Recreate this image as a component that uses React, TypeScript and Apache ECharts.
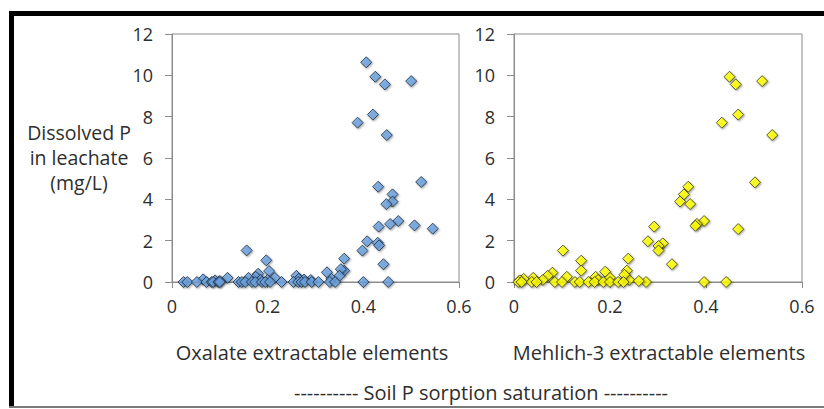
import React, { useEffect, useRef } from "react";
import * as echarts from "echarts";

const yTicks = [0, 2, 4, 6, 8, 10, 12];
const xTicks = [0, 0.2, 0.4, 0.6];

const oxalateHigh: [number, number][] = [
  [0.406, 10.63], [0.425, 9.93], [0.445, 9.56], [0.5, 9.72], [0.42, 8.1], [0.388, 7.71],
  [0.449, 7.11], [0.431, 4.61], [0.521, 4.84], [0.461, 4.24], [0.461, 3.89], [0.448, 3.77],
  [0.473, 2.95], [0.456, 2.81], [0.432, 2.68], [0.507, 2.74], [0.545, 2.58], [0.408, 1.97],
  [0.43, 1.9], [0.433, 1.77], [0.398, 1.52], [0.442, 0.86], [0.36, 1.13], [0.36, 0.55],
  [0.353, 0.62], [0.35, 0.3], [0.324, 0.47], [0.333, 0.15], [0.4, 0], [0.452, 0],
];
const oxalateLow: [number, number][] = [
  [0.156, 1.53], [0.197, 1.05], [0.203, 0.53], [0.18, 0.4], [0.175, 0.25], [0.215, 0.2],
  [0.116, 0.2], [0.065, 0.13], [0.26, 0.3], [0.265, 0.15], [0.29, 0.1], [0.16, 0.2],
  [0.09, 0.08], [0.1, 0.05], [0.2, 0.1], [0.185, 0.1], [0.276, 0.12],
];
const oxalateZeroX = [
  0.024, 0.032, 0.052, 0.072, 0.083, 0.086, 0.097, 0.1, 0.139, 0.146, 0.153, 0.167, 0.174,
  0.188, 0.195, 0.205, 0.229, 0.254, 0.264, 0.271, 0.278, 0.292, 0.306, 0.33, 0.341,
];

const mehlichHigh: [number, number][] = [
  [0.449, 9.93], [0.462, 9.56], [0.517, 9.72], [0.467, 8.1], [0.433, 7.71], [0.538, 7.11],
  [0.502, 4.82], [0.363, 4.61], [0.354, 4.24], [0.346, 3.89], [0.367, 3.77], [0.396, 2.95],
  [0.381, 2.81], [0.378, 2.72], [0.292, 2.68], [0.467, 2.56], [0.279, 1.97], [0.31, 1.87],
  [0.301, 1.74], [0.301, 1.52], [0.329, 0.86], [0.238, 1.13], [0.235, 0.55], [0.24, 0.1],
  [0.396, 0], [0.442, 0], [0.275, 0], [0.26, 0.05],
];
const mehlichLow: [number, number][] = [
  [0.14, 1.03], [0.14, 0.55], [0.102, 1.52], [0.19, 0.5], [0.17, 0.25], [0.08, 0.45],
  [0.07, 0.3], [0.04, 0.2], [0.02, 0.15], [0.11, 0.25], [0.23, 0.35], [0.2, 0.2],
  [0.175, 0.1], [0.012, 0.08], [0.06, 0.1],
];
const mehlichZeroX = [
  0.009, 0.016, 0.037, 0.047, 0.085, 0.1, 0.127, 0.137, 0.155, 0.168, 0.186, 0.2, 0.217, 0.228,
];

const FONT = "Open Sans";
const TXT = "#2e2e2e";

export default function App() {
  const ref = useRef<HTMLDivElement>(null);
  useEffect(() => {
    if (!ref.current) return;
    const chart = echarts.init(ref.current, null, { renderer: "svg" });
    const oxalate = [...oxalateHigh, ...oxalateLow, ...oxalateZeroX.map((x) => [x, 0])];
    const mehlich = [...mehlichHigh, ...mehlichLow, ...mehlichZeroX.map((x) => [x, 0])];
    const yMin = yTicks[0];
    const yMax = yTicks[yTicks.length - 1];
    const xMin = xTicks[0];
    const xMax = xTicks[xTicks.length - 1];
    const mkX = (gi: number) => ({
      type: "value",
      gridIndex: gi,
      min: xMin,
      max: xMax,
      interval: 0.2,
      axisLine: { show: true, lineStyle: { color: "#8c8c8c", width: 1 } },
      axisTick: { show: true, inside: false, length: 6, lineStyle: { color: "#8c8c8c" } },
      splitLine: { show: false },
      axisLabel: { fontFamily: FONT, fontSize: 18, color: TXT, margin: 15 },
    });
    const mkY = (gi: number) => ({
      type: "value",
      gridIndex: gi,
      min: yMin,
      max: yMax,
      interval: 2,
      axisLine: { show: true, lineStyle: { color: "#8c8c8c", width: 1 } },
      axisTick: { show: true, inside: false, length: 7, lineStyle: { color: "#8c8c8c" } },
      splitLine: { show: false },
      axisLabel: { fontFamily: FONT, fontSize: 18, color: TXT, margin: 19 },
    });
    const textStyle = (t: string, x: number, y: number, size: number) => ({
      type: "text",
      x,
      y,
      style: {
        text: t,
        fontFamily: FONT,
        fontSize: size,
        fill: TXT,
        align: "center",
        verticalAlign: "middle",
      },
    });
    chart.setOption({
      animation: false,
      backgroundColor: "#ffffff",
      grid: [
        { left: 172, right: 365, top: 34, bottom: 127, show: true, borderColor: "#8c8c8c", borderWidth: 1, backgroundColor: "transparent" },
        { left: 514, right: 22, top: 34, bottom: 127, show: true, borderColor: "#8c8c8c", borderWidth: 1, backgroundColor: "transparent" },
      ],
      xAxis: [mkX(0), mkX(1)],
      yAxis: [mkY(0), mkY(1)],
      series: [
        {
          type: "scatter",
          xAxisIndex: 0,
          yAxisIndex: 0,
          data: oxalate,
          symbol: "diamond",
          symbolSize: 11,
          itemStyle: {
            color: "#6aa3e0",
            borderColor: "#1e2d3d",
            borderWidth: 1,
            shadowBlur: 2,
            shadowColor: "rgba(0,0,0,0.45)",
            shadowOffsetX: 1,
            shadowOffsetY: 1,
          },
        },
        {
          type: "scatter",
          xAxisIndex: 1,
          yAxisIndex: 1,
          data: mehlich,
          symbol: "diamond",
          symbolSize: 11,
          itemStyle: {
            color: "#ffff00",
            borderColor: "#3a3a10",
            borderWidth: 1,
            shadowBlur: 2,
            shadowColor: "rgba(0,0,0,0.45)",
            shadowOffsetX: 1,
            shadowOffsetY: 1,
          },
        },
      ],
      graphic: [
        { type: "rect", shape: { x: 9, y: 11, width: 5, height: 397 }, style: { fill: "#000000" } },
        { type: "rect", shape: { x: 9, y: 11, width: 815, height: 5 }, style: { fill: "#000000" } },
        { type: "rect", shape: { x: 9, y: 406, width: 815, height: 2 }, style: { fill: "#7a7a7a" } },
        textStyle("Dissolved P", 79, 132, 19.5),
        textStyle("in leachate", 79, 157, 19.5),
        textStyle("(mg/L)", 79, 182, 19.5),
        textStyle("Oxalate extractable elements", 312, 352, 20),
        textStyle("Mehlich-3 extractable elements", 659, 352, 20),
        textStyle("---------- Soil P sorption saturation ----------", 481, 392, 20),
      ],
    });
    return () => chart.dispose();
  }, []);
  return (
    <div
      ref={ref}
      style={{ position: "fixed", left: 0, top: 0, width: 824, height: 409 }}
    />
  );
}
